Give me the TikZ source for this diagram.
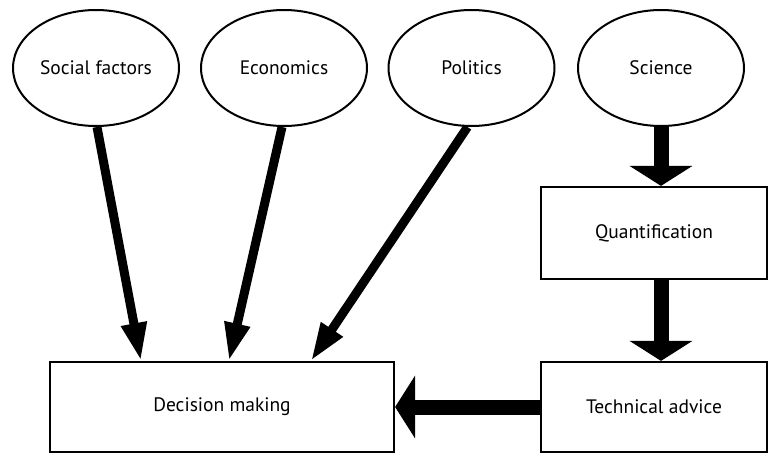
\documentclass[tikz,border=0pt]{standalone}
\usepackage{fontspec}
\setmainfont{PT Sans}
\usetikzlibrary{arrows.meta,shapes.geometric,calc}
\begin{document}
\begin{tikzpicture}[x=1pt,y=-1pt,
  every node/.style={font=\fontsize{19.5}{23}\selectfont, inner sep=0pt},
  oval/.style={draw, ellipse, line width=2pt, minimum width=166pt, minimum height=116pt},
  boxnode/.style={draw, rectangle, line width=2.2pt},
  thinarrow/.style={line width=9pt, -{Triangle[length=38pt,width=24pt]}},
  thickarrow/.style={line width=15pt, -{Triangle[length=20pt,width=62pt]}}]
\useasboundingbox (0,0) rectangle (768,453);
\node[oval] (sf) at (96,68) {Social factors};
\node[oval] (ec) at (284,68) {Economics};
\node[oval] (po) at (471.5,68) {Politics};
\node[oval] (sc) at (661,68) {Science};
\node[boxnode, minimum width=344pt, minimum height=90pt] (dm) at (222,407) {Decision making};
\node[boxnode, minimum width=226pt, minimum height=92pt] (qu) at (654,233) {Quantification};
\node[boxnode, minimum width=226pt, minimum height=90pt] (ta) at (654,407) {Technical advice};
\draw[thinarrow] ([xshift=1pt]sf.south) -- ([xshift=92pt]dm.north west);
\draw[thinarrow] ([xshift=-2pt]ec.south) -- ([xshift=180pt]dm.north west);
\draw[thinarrow] ([xshift=-4pt]po.south) -- ([xshift=262pt]dm.north west);
\draw[thickarrow] (sc.south) -- (sc.south |- qu.north);
\draw[thickarrow] (sc.south |- qu.south) -- (sc.south |- ta.north);
\draw[thickarrow] (ta.west) -- (ta.west -| dm.east);
\end{tikzpicture}
\end{document}
